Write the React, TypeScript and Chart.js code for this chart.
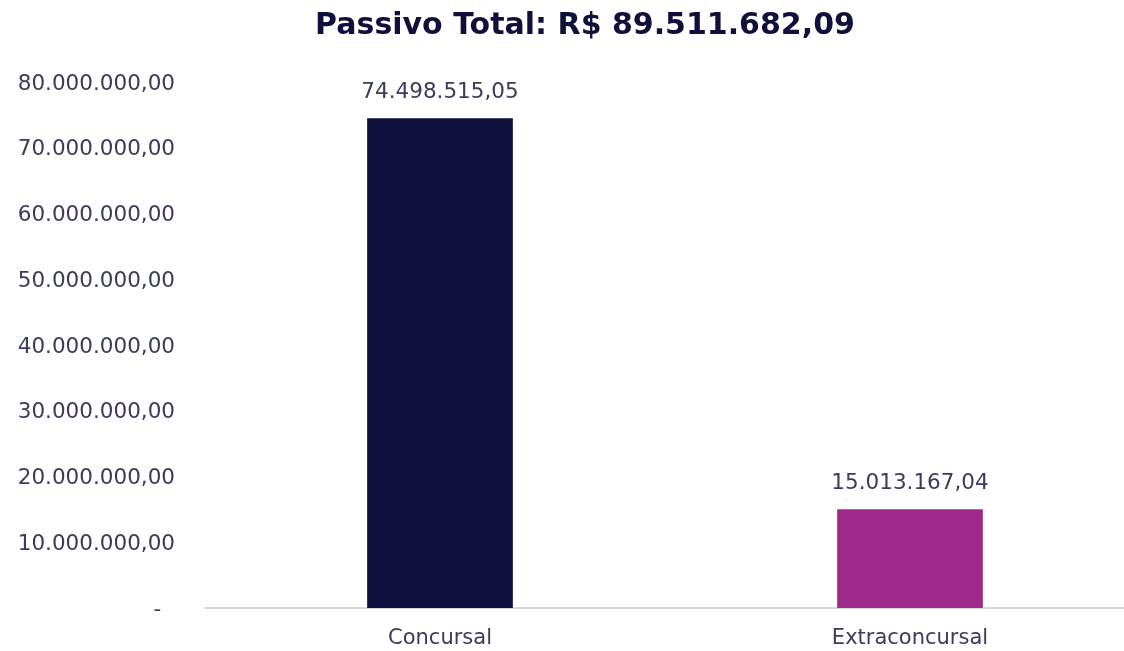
import React, { useEffect, useRef } from "react";
import { Chart, registerables } from "chart.js";

Chart.register(...registerables);

const titleText = "Passivo Total: R$ 89.511.682,09";
const categories = ["Concursal", "Extraconcursal"];
const values = [74498515.05, 15013167.04];
const barColors = ["#0f103c", "#9e2a8e"];
const yMax = 80000000;
const yStep = 10000000;

const FONT = "'Century Gothic', 'DejaVu Sans', sans-serif";
const TEXT_COLOR = "#3b3b5c";

function formatBR(v: number): string {
  const neg = v < 0;
  const abs = Math.abs(v);
  const fixed = abs.toFixed(2);
  const [intPart, dec] = fixed.split(".");
  const withDots = intPart.replace(/\B(?=(\d{3})+(?!\d))/g, ".");
  return (neg ? "-" : "") + withDots + "," + dec;
}

const titlePlugin = {
  id: "customTitle",
  afterDraw(chart: any) {
    const ctx = chart.ctx;
    ctx.save();
    ctx.font = `bold 30px ${FONT}`;
    ctx.fillStyle = "#0f103c";
    ctx.textAlign = "center";
    ctx.textBaseline = "middle";
    ctx.fillText(titleText, 585, 26);
    ctx.restore();
  },
};

const valueLabelPlugin = {
  id: "valueLabels",
  afterDatasetsDraw(chart: any) {
    const ctx = chart.ctx;
    const meta = chart.getDatasetMeta(0);
    ctx.save();
    ctx.font = `21.5px ${FONT}`;
    ctx.fillStyle = TEXT_COLOR;
    ctx.textAlign = "center";
    ctx.textBaseline = "middle";
    meta.data.forEach((bar: any, i: number) => {
      ctx.fillText(formatBR(values[i]), bar.x, bar.y - 26);
    });
    ctx.restore();
  },
};

export default function App() {
  const ref = useRef<HTMLCanvasElement | null>(null);

  useEffect(() => {
    document.body.style.margin = "0";
    const canvas = ref.current;
    if (!canvas) return;
    const chart = new Chart(canvas, {
      type: "bar",
      data: {
        labels: categories,
        datasets: [
          {
            data: values,
            backgroundColor: barColors,
            borderWidth: 0,
            categoryPercentage: 0.62,
            barPercentage: 0.5,
          },
        ],
      },
      options: {
        animation: false,
        responsive: false,
        maintainAspectRatio: false,
        layout: { padding: { top: 82, right: 5, bottom: 0, left: 0 } },
        plugins: {
          legend: { display: false },
          title: { display: false },
          tooltip: { enabled: false },
        },
        scales: {
          x: {
            grid: { display: false, drawTicks: false },
            border: { display: true, color: "#d9d9d9", width: 2 },
            ticks: {
              color: TEXT_COLOR,
              font: { family: FONT, size: 21 },
              padding: 18,
            },
            afterFit(scale: any) {
              scale.height = 42;
            },
          },
          y: {
            min: 0,
            max: yMax,
            grid: { display: false, drawTicks: false },
            border: { display: false },
            ticks: {
              stepSize: yStep,
              color: TEXT_COLOR,
              font: { family: FONT, size: 21.5 },
              padding: 30,
              labelOffset: 2,
              callback: (v: any) => (Number(v) === 0 ? "-  " : formatBR(Number(v))),
            },
            afterFit(scale: any) {
              scale.width = 205;
            },
          },
        },
      },
      plugins: [titlePlugin, valueLabelPlugin],
    });
    return () => chart.destroy();
  }, []);

  return (
    <div style={{ width: 1124, height: 651, overflow: "hidden", background: "#fff" }}>
      <canvas ref={ref} width={1150} height={651} style={{ display: "block" }} />
    </div>
  );
}
